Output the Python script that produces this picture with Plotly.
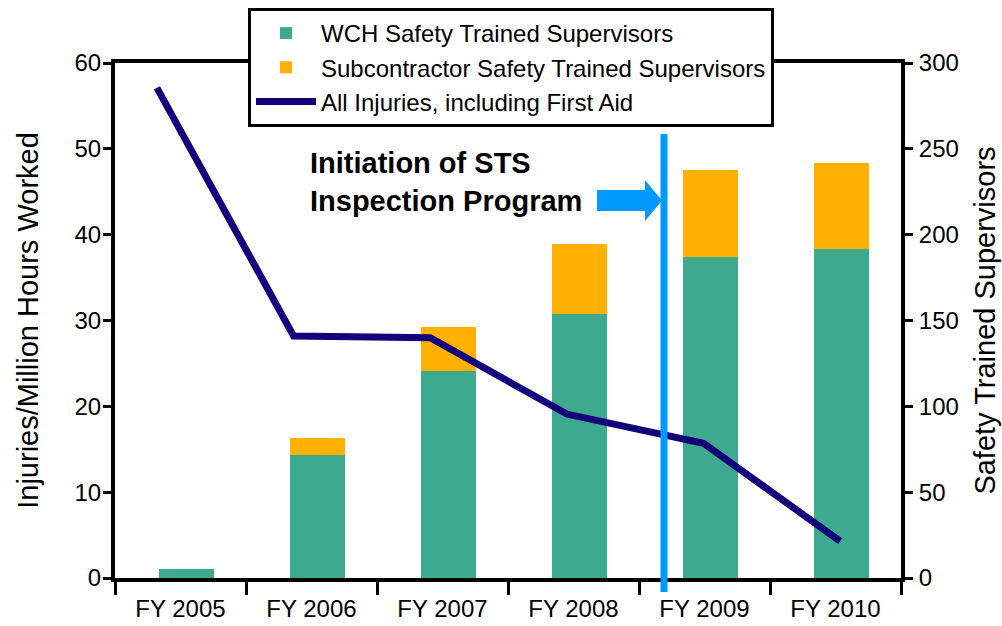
import plotly.graph_objects as go

categories = ["FY 2005", "FY 2006", "FY 2007", "FY 2008", "FY 2009", "FY 2010"]
wch_supervisors = [5, 71.5, 120.5, 154, 187, 191.5]
sub_supervisors = [0, 10, 25.5, 40.5, 50.5, 50]
injury_rate = [57.1, 28.2, 28.0, 19.1, 15.7, 4.3]

FONT = "Liberation Sans, Arial, sans-serif"
GREEN = "#3DAA8F"
ORANGE = "#FFB000"
NAVY = "#13007A"
BLUE = "#0099FF"

# plot area geometry (pixels) used only for styling shapes
L, R, T, B = 115, 101, 63, 48
W, H = 1002, 626
PW, PH = W - L - R, H - T - B


def px(x):
    return (x - L) / PW


def py(y):
    return (H - B - y) / PH


fig = go.Figure()
fig.add_trace(go.Bar(x=categories, y=wch_supervisors, name="WCH Safety Trained Supervisors",
                     marker=dict(color=GREEN, line=dict(width=0)), width=0.42, offset=-0.164,
                     xaxis="x", yaxis="y"))
fig.add_trace(go.Bar(x=categories, y=sub_supervisors, name="Subcontractor Safety Trained Supervisors",
                     marker=dict(color=ORANGE, line=dict(width=0)), width=0.42, offset=-0.164,
                     xaxis="x", yaxis="y"))
fig.add_trace(go.Scatter(x=categories, y=injury_rate, name="All Injuries, including First Aid",
                         mode="lines", line=dict(color=NAVY, width=7),
                         xaxis="x2", yaxis="y2"))

axis_common = dict(showline=True, linecolor="black", linewidth=4, showgrid=False, zeroline=False,
                   ticks="outside", tickcolor="black", tickwidth=3, automargin=False,
                   tickfont=dict(family=FONT, size=24, color="black"))

fig.update_layout(
    width=W, height=H,
    margin=dict(l=L, r=R, t=T, b=B, pad=0, autoexpand=False),
    paper_bgcolor="white", plot_bgcolor="white",
    barmode="stack",
    font=dict(family=FONT, color="black"),
    xaxis=dict(**axis_common, ticklen=13, tickson="boundaries", mirror=True, ticklabelstandoff=6,
               type="category", range=[-0.5, 5.5]),
    xaxis2=dict(overlaying="x", type="category", range=[-0.307, 5.446], visible=False),
    yaxis=dict(**axis_common, ticklen=8, side="right", range=[0, 300], dtick=50, ticklabelstandoff=1,
               title=dict(text="Safety Trained Supervisors", font=dict(family=FONT, size=29, color="black"),
                          standoff=18)),
    yaxis2=dict(**axis_common, ticklen=8, side="left", overlaying="y", range=[0, 60], dtick=10,
                ticklabelstandoff=-3,
                title=dict(text="Injuries/Million Hours Worked", font=dict(family=FONT, size=29, color="black"),
                           standoff=28)),
    legend=dict(x=px(248), y=py(8), xanchor="left", yanchor="top", traceorder="normal",
                bgcolor="white", bordercolor="black", borderwidth=3, itemwidth=60,
                font=dict(family=FONT, size=24, color="black"), tracegroupgap=0),
    showlegend=True,
)

fig.add_shape(type="line", xref="paper", yref="paper", x0=px(664), x1=px(664), y0=py(592), y1=py(134),
              line=dict(color=BLUE, width=7), layer="above")
arrow_path = (f"M {px(597)},{py(190)} L {px(645)},{py(190)} L {px(645)},{py(180)} "
              f"L {px(662)},{py(200.5)} L {px(645)},{py(221)} L {px(645)},{py(211)} "
              f"L {px(597)},{py(211)} Z")
fig.add_shape(type="path", xref="paper", yref="paper", path=arrow_path,
              fillcolor=BLUE, line=dict(width=0), layer="above")

fig.add_annotation(xref="paper", yref="paper", x=px(308), y=py(182), xanchor="left", yanchor="middle",
                   align="left", showarrow=False,
                   text="<b>Initiation of STS<br>Inspection Program</b>",
                   font=dict(family=FONT, size=29, color="black"))

fig.write_html("out.html", config={"displayModeBar": False},
               post_script="document.body.style.margin='0';document.body.style.overflow='hidden';")
